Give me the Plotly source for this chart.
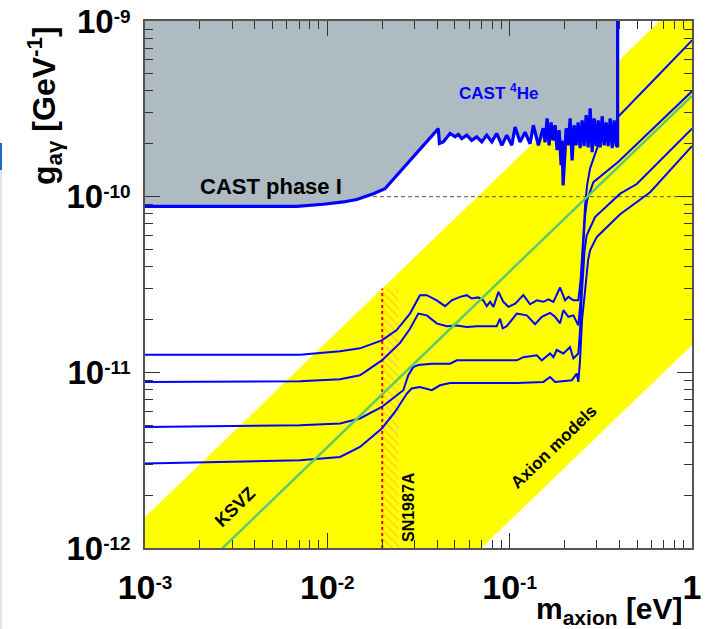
import plotly.graph_objects as go

# ---------------- data (m in eV, g in GeV^-1) ----------------
# CAST phase I exclusion boundary
cast1_m = [0.001, 0.00679, 0.00951, 0.01224, 0.0145, 0.01788, 0.0207]
cast1_g = [8.80e-11, 8.80e-11, 9.05e-11, 9.33e-11, 9.63e-11, 1.04e-10, 1.11e-10]

# CAST 4He exclusion boundary (noisy), ending with the vertical edge
he_m = [0.0406, 0.0412, 0.0432, 0.0471, 0.0502, 0.0523, 0.0546, 0.0582, 0.0619, 0.0660,
        0.0703, 0.0748, 0.0798, 0.0849, 0.0906, 0.0964, 0.1027, 0.1071, 0.114, 0.1215,
        0.1294, 0.1349, 0.1437, 0.1525, 0.1564, 0.1604, 0.1645, 0.1687, 0.1730, 0.1775,
        0.1820, 0.1867, 0.1915, 0.1939, 0.1964, 0.2014, 0.2040, 0.2092, 0.2146, 0.2200,
        0.2257, 0.2315, 0.2374, 0.2435, 0.2497, 0.2561, 0.2627, 0.2694, 0.2763, 0.2834,
        0.2906, 0.2981, 0.3057, 0.3135, 0.3216, 0.3298, 0.3382, 0.3469, 0.3558, 0.3649,
        0.3742, 0.3838, 0.3910, 0.3910]
he_g = [2.44e-10, 2.01e-10, 2.05e-10, 2.29e-10, 2.19e-10, 2.26e-10, 2.14e-10, 2.24e-10, 2.09e-10, 2.19e-10,
        2.05e-10, 2.24e-10, 2.05e-10, 2.29e-10, 1.96e-10, 2.24e-10, 1.96e-10, 2.49e-10, 2.05e-10, 2.33e-10,
        2.00e-10, 2.55e-10, 1.96e-10, 2.45e-10, 2.04e-10, 2.79e-10, 1.96e-10, 2.65e-10, 2.09e-10, 2.55e-10,
        1.84e-10, 2.39e-10, 1.51e-10, 2.09e-10, 1.16e-10, 1.84e-10, 2.45e-10, 1.96e-10, 2.79e-10, 1.61e-10,
        2.55e-10, 1.96e-10, 2.65e-10, 1.89e-10, 2.72e-10, 1.94e-10, 2.91e-10, 1.91e-10, 3.18e-10, 1.79e-10,
        2.79e-10, 1.94e-10, 2.72e-10, 1.91e-10, 2.87e-10, 1.96e-10, 2.65e-10, 1.94e-10, 2.79e-10, 1.89e-10,
        2.72e-10, 1.96e-10, 1.92e-10, 1.0e-9]

# Sensitivity curves
curveA_m = [0.001, 0.00708, 0.01175, 0.0151, 0.0199, 0.0240, 0.0284, 0.0322, 0.0351, 0.0398,
            0.0442, 0.0481, 0.0535, 0.0582, 0.0619, 0.0673, 0.0717, 0.0748, 0.0781, 0.0815,
            0.0868, 0.0923, 0.0984, 0.1072, 0.1189, 0.1294, 0.1408, 0.1531, 0.1631, 0.1738,
            0.1890, 0.2014, 0.2099, 0.2236, 0.2380, 0.2449, 0.2527, 0.2593, 0.2658, 0.2761,
            0.3055, 0.3556, 0.3917, 0.5894, 1.0]
curveA_g = [1.26e-11, 1.26e-11, 1.32e-11, 1.37e-11, 1.52e-11, 1.74e-11, 2.16e-11, 2.75e-11, 2.75e-11, 2.57e-11,
            2.38e-11, 2.57e-11, 2.69e-11, 2.75e-11, 2.63e-11, 2.67e-11, 2.57e-11, 2.38e-11, 2.52e-11, 2.36e-11,
            2.87e-11, 2.52e-11, 2.36e-11, 2.46e-11, 2.75e-11, 2.44e-11, 2.57e-11, 2.52e-11, 2.60e-11, 2.52e-11,
            3.04e-11, 2.57e-11, 2.69e-11, 2.57e-11, 2.57e-11, 3.34e-11, 5.65e-11, 8.93e-11, 1.16e-10, 1.45e-10,
            1.96e-10, 2.45e-10, 2.84e-10, 4.39e-10, 7.76e-10]

curveB_m = [0.001, 0.00708, 0.01175, 0.0151, 0.0199, 0.02506, 0.0284, 0.03156, 0.0351, 0.0398,
            0.0452, 0.0513, 0.0582, 0.0660, 0.0849, 0.0885, 0.0916, 0.0964, 0.1094, 0.1242,
            0.1378, 0.150, 0.1666, 0.1774, 0.1890, 0.1970, 0.2099, 0.2236, 0.2380, 0.2449,
            0.2527, 0.2593, 0.2658, 0.2878, 0.3948, 1.0]
curveB_g = [8.82e-12, 8.90e-12, 9.14e-12, 9.63e-12, 1.17e-11, 1.47e-11, 1.77e-11, 2.16e-11, 2.11e-11, 1.90e-11,
            1.83e-11, 1.85e-11, 1.81e-11, 1.83e-11, 1.83e-11, 2.02e-11, 1.78e-11, 1.83e-11, 2.16e-11, 2.11e-11,
            1.88e-11, 2.07e-11, 2.18e-11, 2.07e-11, 1.90e-11, 2.26e-11, 2.07e-11, 2.11e-11, 1.85e-11, 2.57e-11,
            4.95e-11, 7.83e-11, 9.54e-11, 1.21e-10, 1.58e-10, 3.98e-10]

curveC_m = [0.001, 0.00708, 0.01175, 0.0151, 0.0199, 0.0230, 0.0261, 0.0278, 0.0296, 0.03156,
            0.0374, 0.0471, 0.0513, 0.1094, 0.1189, 0.1408, 0.150, 0.1666, 0.1738, 0.1812,
            0.1970, 0.2143, 0.2236, 0.2380, 0.2432, 0.2495, 0.2576, 0.2645, 0.2939, 0.4036,
            0.4980, 1.0]
curveC_g = [4.89e-12, 5.00e-12, 5.11e-12, 5.46e-12, 6.35e-12, 7.10e-12, 7.91e-12, 9.63e-12, 1.07e-11, 1.10e-11,
            1.12e-11, 1.12e-11, 1.17e-11, 1.17e-11, 1.22e-11, 1.25e-11, 1.17e-11, 1.28e-11, 1.22e-11, 1.34e-11,
            1.28e-11, 1.39e-11, 1.20e-11, 1.28e-11, 1.74e-11, 2.93e-11, 4.95e-11, 6.03e-11, 7.66e-11, 1.04e-10,
            1.18e-10, 2.44e-10]

curveD_m = [0.001, 0.00708, 0.01175, 0.0151, 0.0199, 0.0235, 0.0273, 0.0290, 0.0322, 0.0374,
            0.0415, 0.0471, 0.0717, 0.1094, 0.1531, 0.1666, 0.1776, 0.2193, 0.2333, 0.2380,
            0.2432, 0.2495, 0.2593, 0.2692, 0.2761, 0.3006, 0.4036, 0.5089, 0.5894, 1.0]
curveD_g = [3.03e-12, 3.16e-12, 3.30e-12, 3.76e-12, 4.79e-12, 5.95e-12, 7.57e-12, 8.09e-12, 8.26e-12, 7.91e-12,
            8.44e-12, 8.70e-12, 8.70e-12, 8.70e-12, 8.82e-12, 9.41e-12, 8.82e-12, 9.02e-12, 9.84e-12, 8.82e-12,
            1.17e-11, 2.00e-11, 2.93e-11, 4.35e-11, 4.95e-11, 5.90e-11, 7.94e-11, 9.42e-11, 1.06e-10, 1.94e-10]

# Axion model band and KSVZ line
band_m = [0.001, 1.0]
band_hi = [1.5e-12, 1.5e-9]
band_lo = [1.43e-14, 1.43e-11]
ksvz_m = [0.001, 1.0]
ksvz_g = [3.75e-13, 3.75e-10]

# SN1987A limit
sn_m = [0.02, 0.02]
sn_g = [1.0e-12, 3.0e-11]
sn_hatch_m = [0.02, 0.0247]
sn_hatch_g = [1.0e-12, 3.0e-11]

# reference dashed line g = 1e-10
ref_m = [0.0178, 1.0]
ref_g = [1.0e-10, 1.0e-10]

# axes ticks (label = mantissa + exponent)
x_tickvals = [1e-3, 1e-2, 1e-1, 1.0]
x_tickbase = ["10", "10", "10", "1"]
x_tickexp = ["-3", "-2", "-1", ""]
y_tickvals = [1e-12, 1e-11, 1e-10, 1e-9]
y_tickbase = ["10", "10", "10", "10"]
y_tickexp = ["-12", "-11", "-10", "-9"]
x_minor = [k * d for d in (1e-3, 1e-2, 1e-1) for k in range(2, 10)]
y_minor = [k * d for d in (1e-12, 1e-11, 1e-10) for k in range(2, 10)]


def label(base, exp):
    if not exp:
        return base
    return base + "<span style='font-size:19px;baseline-shift:10px'>" + exp + "</span>"


x_ticktext = [label(b, e) for b, e in zip(x_tickbase, x_tickexp)]
y_ticktext = [label(b, e) for b, e in zip(y_tickbase, y_tickexp)]

# ---------------- figure ----------------
BLUE = "#0000ff"
FONT = "Liberation Sans"
fig = go.Figure()

# yellow axion band
fig.add_trace(go.Scatter(x=band_m + band_m[::-1], y=band_hi + band_lo[::-1],
                         mode="lines", fill="toself", fillcolor="#ffff00",
                         line=dict(width=0), hoverinfo="skip"))
# SN1987A hatched region
fig.add_trace(go.Scatter(x=[sn_hatch_m[0], sn_hatch_m[1], sn_hatch_m[1], sn_hatch_m[0]],
                         y=[sn_hatch_g[0], sn_hatch_g[0], sn_hatch_g[1], sn_hatch_g[1]],
                         mode="lines", fill="toself", fillcolor="rgba(0,0,0,0)",
                         fillpattern=dict(shape="\\", fgcolor="#f6b93b", size=6, solidity=0.35),
                         line=dict(width=0), hoverinfo="skip"))
fig.add_trace(go.Scatter(x=sn_m, y=sn_g, mode="lines",
                         line=dict(color="#ff0000", width=2, dash="3px,3px")))
# dashed reference line
fig.add_trace(go.Scatter(x=ref_m, y=ref_g, mode="lines",
                         line=dict(color="#555555", width=1, dash="4px,3px")))
# sensitivity curves
for cm, cg in ((curveD_m, curveD_g), (curveC_m, curveC_g), (curveB_m, curveB_g), (curveA_m, curveA_g)):
    fig.add_trace(go.Scatter(x=cm, y=cg, mode="lines", line=dict(color=BLUE, width=2)))
# KSVZ line
fig.add_trace(go.Scatter(x=ksvz_m, y=ksvz_g, mode="lines", line=dict(color="#5dc96a", width=2.5)))
# grey excluded region
cast_m = cast1_m + he_m
cast_g = cast1_g + he_g
fig.add_trace(go.Scatter(x=cast_m + [0.001], y=cast_g + [1e-9], mode="lines", fill="toself",
                         fillcolor="#aebbc3", line=dict(width=0), hoverinfo="skip"))
fig.add_trace(go.Scatter(x=cast_m, y=cast_g, mode="lines", line=dict(color=BLUE, width=3.2)))


def px2paper_x(px):
    return (px - 145) / 547.0


def px2paper_y(py):
    return (548 - py) / 527.0


annos = [
    dict(text="CAST phase I", x=px2paper_x(271), y=px2paper_y(187), size=22, color="black", angle=0),
    dict(text="CAST <sup>4</sup>He", x=px2paper_x(498), y=px2paper_y(92), size=17, color=BLUE, angle=0),
    dict(text="KSVZ", x=px2paper_x(235), y=px2paper_y(507), size=18, color="black", angle=-44),
    dict(text="Axion models", x=px2paper_x(553), y=px2paper_y(447), size=17, color="black", angle=-44),
    dict(text="SN1987A", x=px2paper_x(408), y=px2paper_y(507), size=16, color="black", angle=-90),
    dict(text="g<sub>aγ</sub> [GeV<sup>-1</sup>]", x=px2paper_x(45), y=px2paper_y(106), size=32,
         color="black", angle=-90),
]
for a in annos:
    fig.add_annotation(text=a["text"], x=a["x"], y=a["y"], xref="paper", yref="paper",
                       showarrow=False, textangle=a["angle"], xanchor="center", yanchor="middle",
                       font=dict(family=FONT, size=a["size"], color=a["color"], weight="bold"))
fig.add_annotation(text="m<sub>axion</sub> [eV]", x=px2paper_x(685), y=px2paper_y(631),
                   xref="paper", yref="paper", showarrow=False, xanchor="right", yanchor="bottom",
                   font=dict(family=FONT, size=30, color="black", weight="bold"))

# edge artefacts of the original image
fig.add_shape(type="rect", xref="paper", yref="paper", x0=px2paper_x(0), x1=px2paper_x(2),
              y0=px2paper_y(629), y1=px2paper_y(170), fillcolor="#e4e4e4", line=dict(width=0))
fig.add_shape(type="rect", xref="paper", yref="paper", x0=px2paper_x(0), x1=px2paper_x(2),
              y0=px2paper_y(170), y1=px2paper_y(143), fillcolor="#1a6fc4", line=dict(width=0))

axis_common = dict(type="log", ticks="inside", ticklen=15, tickwidth=1, tickcolor="#333333",
                   showline=True, linecolor="#555555", linewidth=1.5, mirror="ticks",
                   showgrid=False, zeroline=False, automargin=False, ticklabeloverflow="allow")
fig.update_xaxes(range=[-3.00001, 0.00001], tickvals=x_tickvals, ticktext=x_ticktext,
                 ticklabelstandoff=8,
                 tickfont=dict(family=FONT, size=34, color="black", weight="bold"),
                 minor=dict(tickvals=x_minor, ticks="inside", ticklen=8, tickcolor="#333333",
                            showgrid=False), **axis_common)
fig.update_yaxes(range=[-12.00001, -8.99999], tickvals=y_tickvals, ticktext=y_ticktext,
                 ticklabelstandoff=6,
                 tickfont=dict(family=FONT, size=33, color="black", weight="bold"),
                 minor=dict(tickvals=y_minor, ticks="inside", ticklen=8, tickcolor="#333333",
                            showgrid=False), **axis_common)
fig.update_layout(width=707, height=629, margin=dict(l=145, r=15, t=21, b=81),
                  paper_bgcolor="white", plot_bgcolor="white", showlegend=False)

fig.write_html("out.html", config={"displayModeBar": False},
               post_script="document.body.style.margin='0px';document.body.style.overflow='hidden';")
